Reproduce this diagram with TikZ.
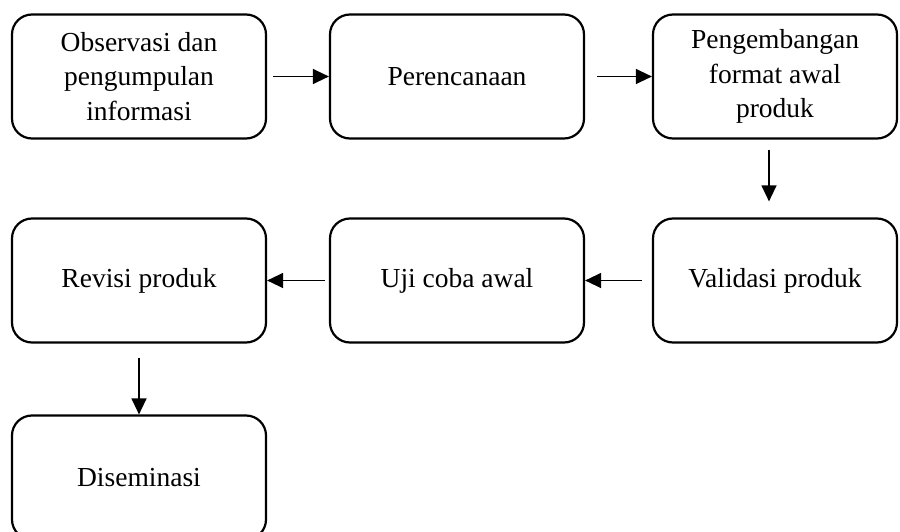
\documentclass[tikz,border=0pt]{standalone}
\usepackage{fontspec}
\setmainfont{Liberation Serif}
\usetikzlibrary{arrows.meta}

\tikzset{
  stage/.style={draw, line width=2.2pt, rounded corners=20pt, minimum width=254pt,
    minimum height=124pt, inner sep=0pt, align=center,
    font=\fontsize{27.5}{34.5}\selectfont},
  flow/.style={-{Triangle[length=16pt,width=15pt]}, line width=1.3pt}
}

\begin{document}
\begin{tikzpicture}[auto,node distance=318pt]
\useasboundingbox (0,0) rectangle (900pt,-532pt);

\node[stage] (obs) at (139pt,-76.5pt) {Observasi dan\\pengumpulan\\informasi};
\node[stage] (plan) [right of=obs] {Perencanaan};
\node[stage,minimum width=244pt] (dev) [right of=plan] {Pengembangan\\format awal\\produk};
\node[stage,minimum width=244pt,node distance=204pt] (valid) [below of=dev] {Validasi produk};
\node[stage] (uji) [left of=valid] {Uji coba awal};
\node[stage] (revisi) [left of=uji] {Revisi produk};
\node[stage,node distance=197pt] (dis) [below of=revisi] {Diseminasi};

% alur tahapan
\draw[flow,shorten <=6pt] (obs) -- (plan);
\draw[flow,shorten <=12pt] (plan) -- (dev);
\draw[flow,shorten <=10pt,shorten >=16pt] ([xshift=-6pt]dev.south) -- ([xshift=-6pt]valid.north);
\draw[flow,shorten <=10pt] (valid) -- (uji);
\draw[flow,shorten <=4pt] (uji) -- (revisi);
\draw[flow,shorten <=14pt] (revisi) -- (dis);
\end{tikzpicture}
\end{document}
